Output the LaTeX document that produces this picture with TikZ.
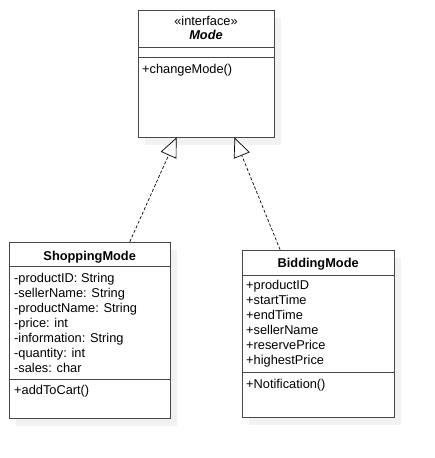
\documentclass[tikz,border=0pt]{standalone}
\usepackage{fontspec}
\setmainfont{Liberation Sans}
\usetikzlibrary{arrows.meta,shadows,calc}

\begin{document}
\begin{tikzpicture}[x=1pt, y=-1pt,
    classbox/.style={draw=black!72, line width=0.9pt, fill=white, inner sep=0pt, general shadow={fill=black!5, shadow xshift=7pt, shadow yshift=-8pt}},
    classsep/.style={draw=black!72, line width=0.9pt},
    umltext/.style={inner sep=0pt, font=\fontsize{12.8}{15}\selectfont},
    umltitle/.style={inner sep=0pt, font=\fontsize{12.8}{15}\selectfont\bfseries},
    realize/.style={densely dashed, line width=0.7pt, -{Triangle[open, length=19.5pt, width=17pt, line width=0.7pt]}}]
    \useasboundingbox (0,0) rectangle (434,458);

    \node[classbox, minimum width=136pt, minimum height=127pt] (mode) at (206,73.5) {};
    \draw[classsep] (mode.west |- 0,47.5) -- (mode.east |- 0,47.5);
    \draw[classsep] (mode.west |- 0,57.5) -- (mode.east |- 0,57.5);
    \node[umltext, anchor=base] (modestereo) at (206,25.5) {«interface»};
    \node[umltitle, anchor=base, font=\fontsize{12.8}{15}\selectfont\bfseries\itshape] (modename) at (206,39.5) {Mode};
    \node[umltext, anchor=base west] (modeop) at (142,73.5) {+changeMode()};

    \node[classbox, minimum width=160.7pt, minimum height=176pt] (shop) at (89.7,330.3) {};
    \draw[classsep] (shop.west |- 0,266.7) -- (shop.east |- 0,266.7);
    \draw[classsep] (shop.west |- 0,379.3) -- (shop.east |- 0,379.3);
    \node[umltitle, anchor=base] (shopname) at (89.7,260.3) {ShoppingMode};
    \foreach \attr [count=\i from 0] in {-productID: String, -sellerName: String, -productName: String, -price: int, -information: String, -quantity: int, -sales: char}
        \node[umltext, anchor=base west] (shopattr\i) at (14,282.5+15*\i) {\attr};
    \node[umltext, anchor=base west] (shopop) at (14,394.5) {+addToCart()};

    \node[classbox, minimum width=151.7pt, minimum height=167.3pt] (bid) at (318.2,333.7) {};
    \draw[classsep] (bid.west |- 0,275) -- (bid.east |- 0,275);
    \draw[classsep] (bid.west |- 0,372.7) -- (bid.east |- 0,372.7);
    \node[umltitle, anchor=base] (bidname) at (318.2,267.5) {BiddingMode};
    \foreach \attr [count=\i from 0] in {+productID, +startTime, +endTime, +sellerName, +reservePrice, +highestPrice}
        \node[umltext, anchor=base west] (bidattr\i) at (246,289+15*\i) {\attr};
    \node[umltext, anchor=base west] (bidop) at (246,388.5) {+Notification()};

    \draw[realize] ($(shop.north west)!0.748!(shop.north east)$) -- ($(mode.south west)!0.285!(mode.south east)$);
    \draw[realize] ($(bid.north west)!0.25!(bid.north east)$) -- ($(mode.south west)!0.708!(mode.south east)$);
\end{tikzpicture}
\end{document}
